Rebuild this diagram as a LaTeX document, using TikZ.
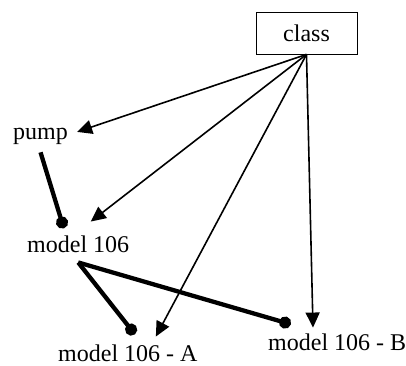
\documentclass[tikz,border=0pt]{standalone}
\usepackage{fontspec}
\setmainfont{Liberation Serif}
\newfontfamily\labelfont{Liberation Serif}
\usetikzlibrary{arrows.meta}

\begin{document}
\begin{tikzpicture}[
      x=1pt,y=-1pt,
      font=\labelfont\fontsize{24}{28}\selectfont,
      box/.style={draw,line width=0.8pt,minimum width=101pt,minimum height=42pt,inner sep=0pt},
      lbl/.style={inner sep=0pt,anchor=base west},
      arr/.style={-{Triangle[length=15pt,width=14pt]},line width=1.6pt},
      link/.style={-{Circle[length=12pt]},line width=4.3pt}
    ]
      \useasboundingbox (0,0) rectangle (406,365);
      \node[box] (class) at (306.5,33) {class};
      \node[lbl] (pump) at (13,139) {pump};
      \node[lbl] (m106) at (27,252) {model 106};
      \node[lbl] (m106a) at (58,361) {model 106 - A};
      \node[lbl] (m106b) at (268,350) {model 106 - B};
      % class arrows
      \draw[arr] (class.south) -- ([xshift=9pt,yshift=4pt]pump.east);
      \draw[arr] (class.south) -- ([xshift=12.6pt,yshift=13.6pt]m106.north);
      \draw[arr] (class.south) -- ([xshift=28pt,yshift=7.6pt]m106a.north);
      \draw[arr] (class.south) -- ([xshift=45pt,yshift=5.6pt]m106b.north west);
      % thick links
      \draw[link] ([yshift=-8pt]pump.south) -- ([xshift=36.8pt,yshift=6.9pt]m106.north west);
      \draw[link] ([yshift=-10pt]m106.south) -- ([xshift=7pt,yshift=9.9pt]m106a.north);
      \draw[link] ([yshift=-10pt]m106.south) -- ([xshift=22.8pt,yshift=8.9pt]m106b.north west);
    \end{tikzpicture}
\end{document}
